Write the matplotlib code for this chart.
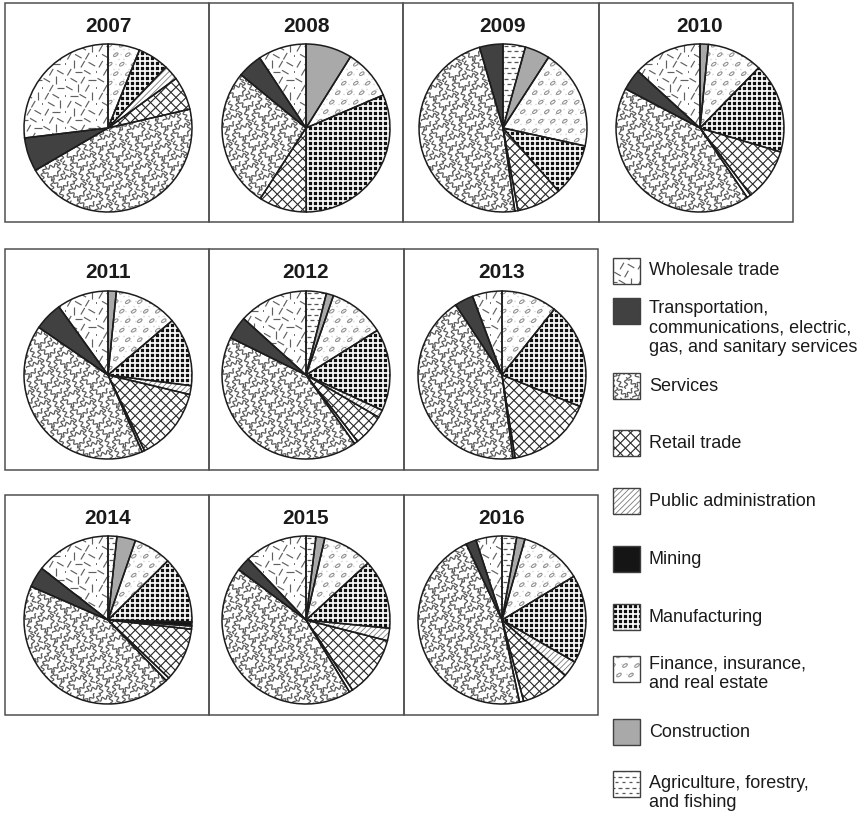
import numpy as np
import matplotlib
matplotlib.use("Agg")
import matplotlib.pyplot as plt
from matplotlib.patches import Wedge, Rectangle
from matplotlib.collections import LineCollection

plt.rcParams['font.family'] = ['Liberation Sans', 'DejaVu Sans']

# ---- data (share of total, %), slices run clockwise from 12 o'clock ----
YEARS = [2007, 2008, 2009, 2010, 2011, 2012, 2013, 2014, 2015, 2016]
agriculture = [0, 0, 4.3, 0, 0, 3.9, 0, 1.7, 1.9, 2.8]
construction = [0, 8.9, 4.8, 1.6, 1.6, 1.4, 0, 3.6, 1.7, 1.6]
finance = [6.1, 9.7, 19.3, 10.7, 12.3, 10.8, 10.7, 7.3, 9.6, 11.9]
manufacturing = [6.0, 31.4, 10.1, 17.3, 13.3, 15.8, 20.4, 12.8, 13.4, 17.0]
mining = [0, 0, 0, 0, 0, 0, 0, 0.8, 0, 0]
public_admin = [2.9, 0, 0, 0, 1.7, 1.5, 0, 0.6, 2.4, 3.1]
retail = [6.4, 9.2, 8.6, 10.1, 14.2, 6.1, 16.4, 10.4, 11.7, 9.4]
unclassified = [0, 0, 0.6, 0.8, 0.5, 0.7, 0.4, 0.7, 0.7, 0.8]
services = [45.2, 26.8, 47.7, 42.2, 41.5, 42.1, 42.8, 43.8, 43.9, 46.3]
transportation = [6.5, 4.8, 4.5, 4.1, 5.5, 4.4, 3.6, 4.0, 2.7, 2.0]
wholesale = [26.9, 9.3, 0, 13.2, 10.0, 13.3, 5.7, 14.5, 12.1, 5.0]

SERIES = [
    ('agri', agriculture), ('constr', construction), ('finance', finance),
    ('manuf', manufacturing), ('mining', mining), ('public', public_admin),
    ('retail', retail), ('other', unclassified), ('services', services),
    ('transport', transportation), ('wholesale', wholesale),
]

LEGEND_KEYS = ['wholesale', 'transport', 'services', 'retail', 'public',
               'mining', 'manuf', 'finance', 'constr', 'agri']
LEGEND_LABELS = [
    'Wholesale trade',
    'Transportation,\ncommunications, electric,\ngas, and sanitary services',
    'Services', 'Retail trade', 'Public administration', 'Mining',
    'Manufacturing', 'Finance, insurance,\nand real estate', 'Construction',
    'Agriculture, forestry,\nand fishing',
]

# ---- layout (pixels) ----
W, H = 868, 813
R = 84
PIE_X = [[108, 306, 503, 700], [108, 306, 502], [108, 306, 502]]
PIE_Y = [128, 375, 620]
ROW_TOP = [3, 249, 495]
ROW_BOT = [222, 470, 715]
COL_EDGES = [[5, 209, 403, 599, 793], [5, 209, 404, 598], [5, 209, 404, 598]]
SWATCH_Y = [271, 311, 386, 443, 501, 559, 617, 669, 732, 784]
LABEL_Y = [270, 328, 386, 443, 501, 559, 617, 674, 732, 793]

FACE = {'agri': 'white', 'constr': '#a9a9a9', 'finance': 'white',
        'manuf': '#111111', 'mining': '#151515', 'public': 'white',
        'retail': 'white', 'other': 'white', 'services': 'white',
        'transport': '#414141', 'wholesale': 'white'}


def grid(x0, x1, y0, y1, sx, sy, stagger=0.0):
    pts = []
    for j, y in enumerate(np.arange(y0 - sy, y1 + sy, sy)):
        off = stagger * sx if j % 2 else 0.0
        for i, x in enumerate(np.arange(x0 - sx, x1 + sx, sx)):
            pts.append((i, j, x + off, y))
    return pts


def texture(kind, box, u, ys):
    """return list of (segments, style) that fill box; u = data units per pixel"""
    x0, x1, y0, y1 = box
    out = []
    if kind == 'services':
        t = np.linspace(-5.5, 5.5, 41)
        segs = []
        for i, j, x, y in grid(x0, x1, y0, y1, 6.5 * u, 10 * u, 0.5):
            k = (i * 5 + j * 3) % 7
            a = np.deg2rad([90, 70, 110, 45, 95, 135, 20][k])
            ph = [0.0, 1.3, 2.6, 0.7, 3.5, 1.9, 4.4][(i + j * 2) % 7]
            w = 1.5 * np.sin(2 * np.pi * t / 5.5 + ph)
            dx, dy = np.cos(a), np.sin(a)
            segs.append(np.column_stack([x + (t * dx - w * dy) * u,
                                         y + (t * dy + w * dx) * u * ys]))
        out.append((segs, dict(colors='#5a5a5a', linewidths=0.9)))
    elif kind == 'wholesale':
        segs, dots = [], []
        for i, j, x, y in grid(x0, x1, y0, y1, 9 * u, 8 * u, 0.5):
            k = (i * 7 + j * 3) % 6
            if k == 0:
                dots.append([(x, y), (x + 0.8 * u, y)])
                continue
            a = np.deg2rad([60, -30, 60, 0, -30, 90][(i + 2 * j) % 6])
            dx, dy = 3.8 * np.cos(a) * u, 3.8 * np.sin(a) * u * ys
            segs.append([(x - dx, y - dy), (x + dx, y + dy)])
        out.append((segs, dict(colors='#606060', linewidths=0.85)))
        out.append((dots, dict(colors='#555555', linewidths=1.2)))
    elif kind == 'finance':
        th = np.linspace(0, 2 * np.pi, 15)
        a = np.deg2rad(35)
        ex, ey = 2.7 * np.cos(th), 1.3 * np.sin(th)
        rx = ex * np.cos(a) - ey * np.sin(a)
        ry = ex * np.sin(a) + ey * np.cos(a)
        ell = [np.column_stack([x + rx * u, y + ry * u * ys])
               for i, j, x, y in grid(x0, x1, y0, y1, 12 * u, 9.5 * u, 0.5)]
        dots = [[(x, y), (x + 0.7 * u, y)]
                for i, j, x, y in grid(x0 + 3 * u, x1, y0 + 2.5 * u, y1, 5 * u, 5 * u, 0.5)
                if (i + j) % 3]
        out.append((dots, dict(colors='#c4c4c4', linewidths=1.0)))
        out.append((ell, dict(colors='#8f8f8f', linewidths=0.75)))
    elif kind == 'agri':
        segs = [[(x - 1.8 * u, y), (x + 1.8 * u, y)]
                for i, j, x, y in grid(x0, x1, y0, y1, 7 * u, 5.5 * u, 0.5)]
        out.append((segs, dict(colors='#555555', linewidths=0.9)))
    elif kind == 'manuf':
        step = 5 * u
        segs = [[(x, y0), (x, y1)] for x in np.arange(x0, x1, step)]
        segs += [[(x0, y), (x1, y)] for y in np.arange(y0, y1, step)]
        out.append((segs, dict(colors='white', linewidths=1.25)))
    elif kind in ('retail', 'public'):
        d = (7.2 if kind == 'retail' else 4.0) * u * np.sqrt(2)
        hh = y1 - y0
        segs = []
        for c in np.arange(-hh - d, (x1 - x0) + d, d):
            xa, xb = x0 + c, x0 + c + hh
            if kind == 'retail':
                segs.append([(xa, y0), (xb, y1)])
                segs.append([(xa, y1), (xb, y0)])
            elif ys > 0:
                segs.append([(xa, y0), (xb, y1)])
            else:
                segs.append([(xa, y1), (xb, y0)])
        if kind == 'retail':
            out.append((segs, dict(colors='#262626', linewidths=0.8)))
        else:
            out.append((segs, dict(colors='#7a7a7a', linewidths=0.6)))
    return out


def fill(ax, kind, clip, box, u, ys):
    for segs, style in texture(kind, box, u, ys):
        lc = LineCollection(segs, zorder=2, **style)
        ax.add_collection(lc)
        lc.set_clip_path(clip)


fig = plt.figure(figsize=(W / 100, H / 100), dpi=100)
fig.patch.set_facecolor('white')
bg = fig.add_axes([0, 0, 1, 1])
bg.set_xlim(0, W)
bg.set_ylim(H, 0)
bg.axis('off')

# boxes around the year panels
for row, edges in enumerate(COL_EDGES):
    for xa, xb in zip(edges[:-1], edges[1:]):
        bg.add_patch(Rectangle((xa, ROW_TOP[row]), xb - xa, ROW_BOT[row] - ROW_TOP[row],
                               fill=False, edgecolor='#505050', linewidth=1.1))

cells = [(r, c) for r in range(3) for c in range(len(PIE_X[r]))]
L = 1.05 * R
for n, (year, (row, col)) in enumerate(zip(YEARS, cells)):
    cx, cy = PIE_X[row][col], PIE_Y[row]
    bg.text(cx, ROW_TOP[row] + 23, str(year), ha='center', va='center',
            fontsize=15, fontweight='bold', color='#1a1a1a')
    ax = fig.add_axes([(cx - L) / W, (H - cy - L) / H, 2 * L / W, 2 * L / H])
    keys = [k for k, s in SERIES if s[n] > 0]
    vals = [s[n] for k, s in SERIES if s[n] > 0]
    wedges, _ = ax.pie(vals, colors=[FACE[k] for k in keys], startangle=90,
                       counterclock=False, radius=1.0, wedgeprops=dict(linewidth=0))
    for k, wdg in zip(keys, wedges):
        fill(ax, k, wdg, (-1.05, 1.05, -1.05, 1.05), 1.0 / R, 1)
        ax.add_patch(Wedge(wdg.center, wdg.r, wdg.theta1, wdg.theta2, fill=False,
                           edgecolor='#1c1c1c', linewidth=1.1, zorder=3))
    ax.set_xlim(-1.05, 1.05)
    ax.set_ylim(-1.05, 1.05)
    ax.axis('off')

# legend with the same fills
for k, label, sy, ty in zip(LEGEND_KEYS, LEGEND_LABELS, SWATCH_Y, LABEL_Y):
    sw = Rectangle((613, sy - 13), 27, 26, facecolor=FACE[k], edgecolor='none', zorder=1)
    bg.add_patch(sw)
    fill(bg, k, sw, (613, 640, sy - 13, sy + 13), 1.0, -1)
    bg.add_patch(Rectangle((613, sy - 13), 27, 26, fill=False, edgecolor='#404040',
                           linewidth=1.0, zorder=3))
    bg.text(649, ty, label, ha='left', va='center', fontsize=13,
            color='#1a1a1a', linespacing=1.2)

fig.savefig('out.png', dpi=100, facecolor='white')
